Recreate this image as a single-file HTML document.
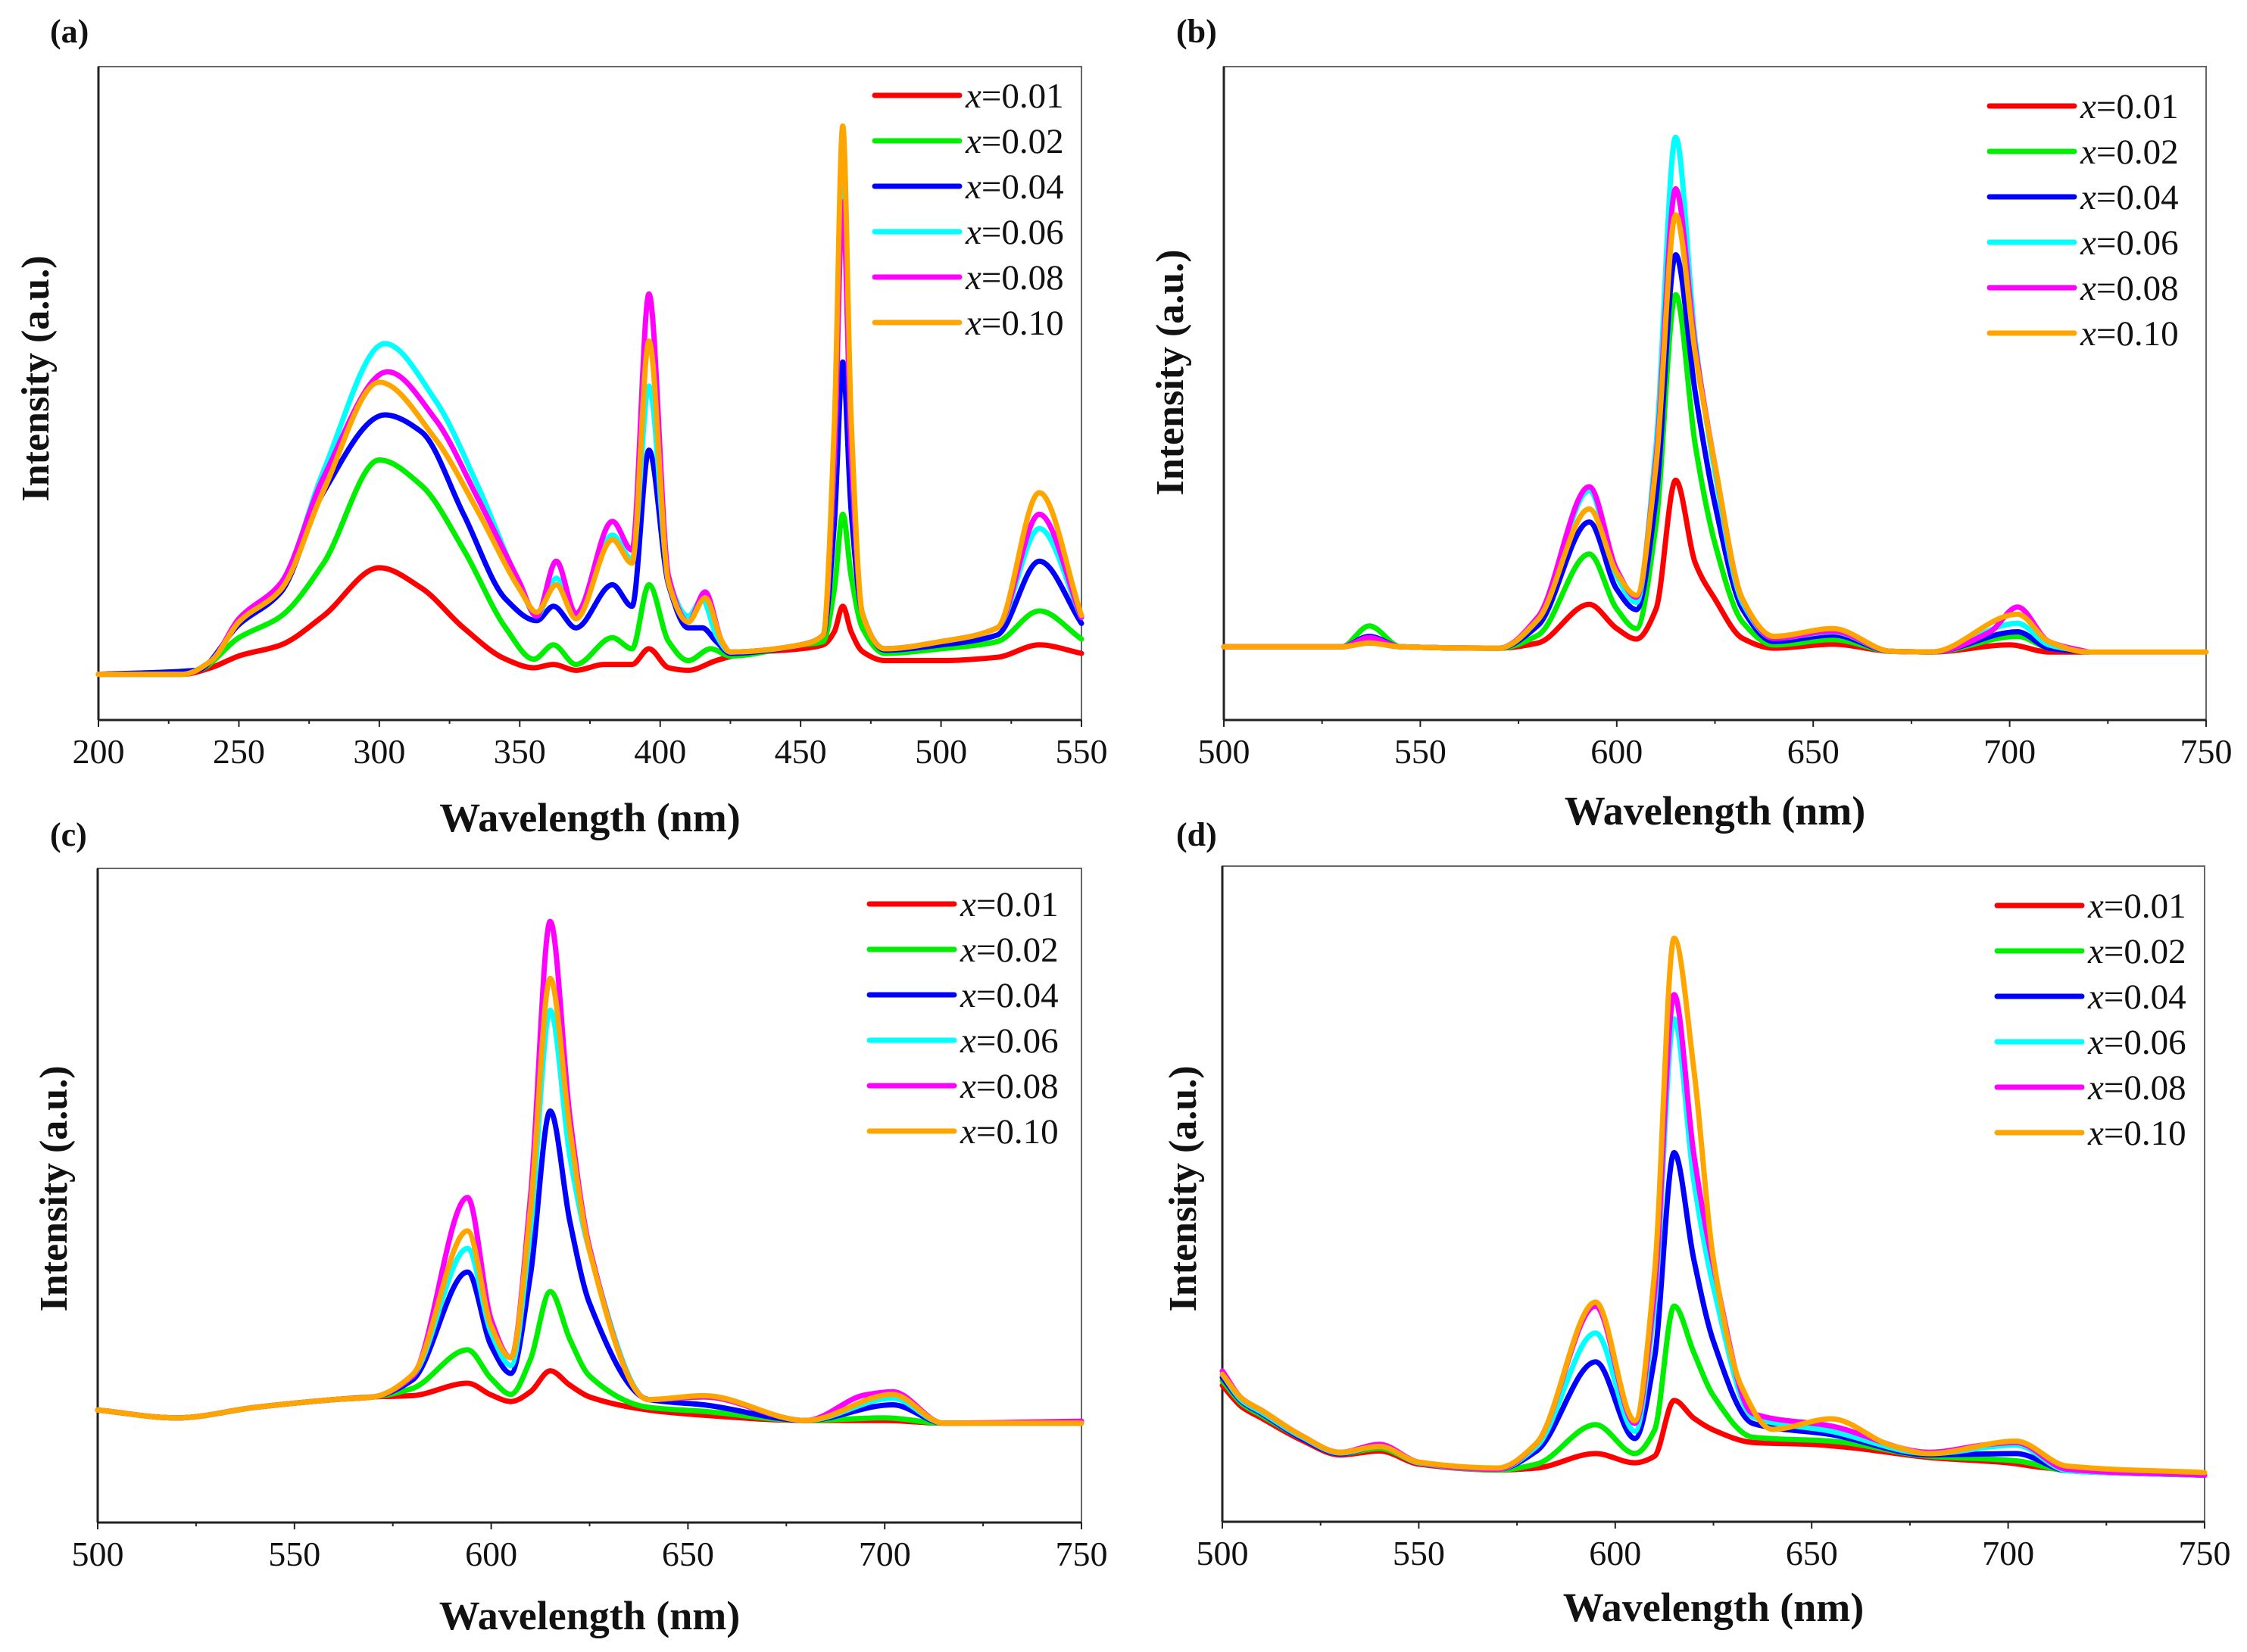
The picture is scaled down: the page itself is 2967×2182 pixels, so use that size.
<!DOCTYPE html>
<html>
<head>
<meta charset="utf-8">
<style>
html,body{margin:0;padding:0;background:#fff;}
svg{display:block;}
</style>
</head>
<body>
<svg id="fig" width="2967" height="2182" viewBox="0 0 2967 2182" xmlns="http://www.w3.org/2000/svg"></svg>
<script>
// ---------- data (wavelength nm, intensity a.u. on 0-100 axis scale) ----------
const seriesLabels = ["0.01","0.02","0.04","0.06","0.08","0.10"];
const seriesColors = ["#ff0000","#00ee00","#0000ff","#00ffff","#ff00ff","#ffa500"];
const xTicksA = [200,250,300,350,400,450,500,550];
const xTicksB = [500,550,600,650,700,750];

// Panel (a): excitation spectra
const aRed = [[200,7],[230,7],[240,8],[250,9.8],[265,11.5],[280,15.9],[300,23.3],[315,20.2],[330,14.1],[345,9.3],[355,8],[362,8.5],[370,7.6],[380,8.5],[390,8.5],[396,10.9],[403,8],[410,7.6],[420,9.1],[430,10.2],[450,10.9],[458,11.5],[462,13.5],[465,17.4],[468,13.5],[472,10.5],[480,9.1],[500,9.1],[520,9.6],[535,11.5],[550,10.2]];
const aGreen = [[200,7],[235,7.6],[250,12.6],[265,15.9],[280,23.9],[300,39.8],[315,35.9],[330,26.1],[345,14.1],[355,9.3],[362,11.5],[370,8.5],[383,12.6],[390,10.9],[396,20.7],[403,12],[410,9.1],[418,10.9],[425,9.8],[450,11.5],[458,12],[462,20],[465,31.5],[468,22],[472,14.1],[480,10.2],[500,10.9],[520,12],[535,16.7],[550,12.4]];
const aBlue = [[200,7],[235,7.6],[250,14.6],[265,19.6],[280,34.8],[302,46.7],[315,44.1],[330,31.5],[345,18.5],[356,15.2],[362,17.4],[370,14.1],[383,20.7],[390,17.4],[396,41.3],[403,20.7],[410,14.1],[415,14.1],[420,12],[425,10.2],[450,11.5],[458,13],[462,30],[465,54.8],[468,32],[472,16.3],[480,10.7],[500,11.5],[520,13],[535,24.3],[550,14.8]];
const aCyan = [[200,7],[230,7],[240,9],[250,15.2],[265,20.7],[280,38],[302,57.6],[320,48.9],[335,35.9],[350,20.7],[356,15.9],[363,21.7],[370,15.9],[383,28.3],[390,24.6],[396,51.1],[403,21.7],[410,15.9],[415,18.5],[420,13],[425,10.4],[450,11.5],[458,13],[462,40],[465,81.5],[468,42],[472,16.3],[480,10.9],[500,12],[520,14.1],[535,29.3],[550,15.7]];
const aMagenta = [[200,7],[230,7],[240,9],[250,15.5],[265,21],[280,37],[303,53.3],[320,46],[335,34],[350,21],[356,15.9],[363,24.3],[370,16.3],[383,30.4],[390,26],[396,65.2],[403,22],[410,15],[416,19.6],[422,12],[425,10.4],[450,11.5],[458,13],[462,40],[465,79.3],[468,41],[472,16.3],[480,10.9],[500,12],[520,14.1],[535,31.5],[550,15.7]];
const aOrange = [[200,7],[230,7],[240,9],[250,15],[265,20],[280,35],[300,51.7],[320,43],[335,32],[350,20],[356,16.5],[363,20.7],[370,15.5],[383,27.6],[390,24],[396,58],[403,21],[410,15],[416,18.7],[422,12],[425,10.4],[450,11.5],[458,13],[462,45],[465,90.9],[468,46],[472,16.3],[480,10.9],[500,12],[520,14.1],[535,34.8],[550,16]];

// Panel (b)
const bRed = [[500,11.2],[530,11.2],[537,11.8],[545,11.2],[570,11],[580,11.8],[593,17.7],[600,14],[605,12.4],[610,17],[615,36.7],[620,24],[625,18.5],[632,12.5],[640,11],[655,11.6],[670,10.5],[680,10.4],[700,11.5],[710,10.4],[720,10.4]];
const bGreen = [[500,11.2],[530,11.2],[537,14.4],[545,11.2],[570,11],[580,13],[593,25.4],[600,17],[605,14],[610,30],[615,65.1],[620,42],[625,27],[632,15],[640,11.5],[655,12.3],[670,10.5],[680,10.4],[702,12.8],[710,11],[720,10.4]];
const bBlue = [[500,11.2],[530,11.2],[537,12.8],[545,11.2],[570,11],[580,14.5],[593,30.3],[600,20],[605,16.9],[610,34],[615,71.2],[620,50],[625,33],[632,17],[640,12],[655,13],[670,10.5],[680,10.4],[702,13.5],[710,11],[720,10.4]];
const bCyan = [[500,11.2],[530,11.2],[537,12.2],[545,11.2],[570,11],[580,15.4],[593,35.1],[600,22],[605,18],[610,42],[615,89.2],[620,58],[625,38],[632,18],[640,12.5],[655,13.5],[670,10.5],[680,10.4],[702,14.8],[710,11.5],[720,10.4]];
const bMagenta = [[500,11.2],[530,11.2],[537,12.6],[545,11.2],[570,11],[580,15.8],[593,35.7],[600,23],[605,18.8],[610,40],[615,81.3],[620,57],[625,39],[632,18.5],[640,12.5],[655,13.6],[670,10.5],[680,10.4],[695,13.5],[702,17.3],[710,12],[720,10.4]];
const bOrange = [[500,11.2],[530,11.2],[537,11.8],[545,11.2],[570,11],[580,15.4],[593,32.3],[600,22.5],[605,19.1],[610,39],[615,77.3],[620,56],[625,39],[632,18.5],[640,12.8],[655,14],[670,10.5],[680,10.4],[702,16.2],[710,12],[720,10.4],[750,10.4]];

// Panel (c)
const cRed = [[500,17.2],[520,16],[540,17.6],[560,18.8],[570,19.2],[580,19.4],[594,21.3],[600,19.5],[605,18.5],[610,20],[615,23.2],[620,21],[625,19.2],[640,17.2],[654,16.4],[680,15.6],[700,15.6],[715,15.2],[750,15.2]];
const cGreen = [[500,17.2],[520,16],[540,17.6],[560,18.8],[570,19.2],[580,20.5],[594,26.4],[600,22],[605,19.6],[610,25],[615,35.3],[620,28],[625,22.4],[640,17.6],[654,17],[680,15.6],[700,16],[715,15.2],[750,15.2]];
const cBlue = [[500,17.2],[520,16],[540,17.6],[560,18.8],[570,19.2],[580,21.8],[594,38.3],[600,27],[605,22.8],[610,38],[615,62.9],[620,46],[625,33.5],[640,18.8],[654,18],[680,15.6],[702,18],[715,15.2],[750,15.2]];
const cCyan = [[500,17.2],[520,16],[540,17.6],[560,18.8],[570,19.2],[580,22.4],[594,41.9],[600,29],[605,24],[610,45],[615,78.3],[620,56],[625,41.5],[640,18.8],[654,19.2],[680,15.6],[702,19],[715,15.2],[750,15.2]];
const cMagenta = [[500,17.2],[520,16],[540,17.6],[560,18.8],[570,19.2],[580,22.4],[594,49.7],[600,31],[605,25.2],[610,50],[615,91.9],[620,62],[625,42],[640,18.8],[654,19.2],[680,15.6],[695,19.5],[702,20],[715,15.2],[750,15.5]];
const cOrange = [[500,17.2],[520,16],[540,17.6],[560,18.8],[570,19.2],[580,22.6],[594,44.6],[600,30],[605,25.2],[610,48],[615,83.2],[620,60],[625,41.5],[640,18.8],[654,19.4],[680,15.6],[702,19.6],[715,15.2],[750,15.2]];

// Panel (d)
const dRed = [[500,20.8],[505,17.5],[510,15.8],[520,12.5],[530,10.2],[540,10.8],[550,8.8],[570,7.9],[580,8.2],[595,10.4],[605,9],[610,10],[615,18.5],[620,15.8],[625,14],[635,12.1],[650,11.8],[660,11.3],[680,9.8],[700,9],[710,8.2],[750,7.1]];
const dGreen = [[500,21.5],[505,18],[510,16.2],[520,12.8],[530,10.4],[540,11.2],[550,9],[570,7.9],[580,8.8],[595,14.8],[605,10.4],[610,14],[615,32.9],[620,25.8],[625,19.2],[635,12.9],[655,12.3],[680,10],[702,9.3],[715,7.8],[750,7.1]];
const dBlue = [[500,22],[505,18.3],[510,16.5],[520,12.8],[530,10.4],[540,11.5],[550,9],[570,8],[580,10.8],[595,24.4],[605,12.7],[610,25],[615,56.3],[620,40],[625,27.5],[635,15],[655,13.3],[680,10.2],[702,10.4],[715,7.8],[750,7.1]];
const dCyan = [[500,22.5],[505,18.5],[510,16.7],[520,13],[530,10.5],[540,11.5],[550,9],[570,8],[580,11.5],[595,28.8],[605,13.8],[610,33],[615,76.7],[620,52],[625,35.8],[635,16],[655,13.8],[680,10.4],[702,11.7],[715,7.8],[750,7.1]];
const dMagenta = [[500,23],[505,18.8],[510,17],[520,13.2],[530,10.6],[540,11.8],[550,9.1],[570,8],[580,12],[595,32.9],[605,15],[610,35],[615,80.4],[620,56],[625,39],[635,16.5],[655,14.6],[680,10.6],[695,11.8],[702,12.1],[715,8],[750,7.1]];
const dOrange = [[500,22.5],[505,18.8],[510,17],[520,13.2],[530,10.6],[540,11.5],[550,9.1],[570,8.2],[580,12],[595,33.5],[605,15.4],[610,38],[615,89],[620,69],[625,40],[632,20.8],[640,14.1],[655,15.7],[670,11.7],[680,10.4],[702,12.3],[715,8.5],[750,7.5]];

const NS = "http://www.w3.org/2000/svg";
const svg = document.getElementById('fig');
function mk(tag, attrs, parent){
  const e = document.createElementNS(NS, tag);
  for (const k in attrs) e.setAttribute(k, attrs[k]);
  (parent||svg).appendChild(e);
  return e;
}
// monotone cubic (Fritsch-Carlson) path - no overshoot
function smoothPath(pts){
  const n = pts.length;
  const dx = [], m = [], t = [];
  for (let i = 0; i < n-1; i++){ dx[i] = pts[i+1][0]-pts[i][0]; m[i] = (pts[i+1][1]-pts[i][1])/dx[i]; }
  t[0] = m[0]; t[n-1] = m[n-2];
  for (let i = 1; i < n-1; i++){
    if (m[i-1]*m[i] <= 0) t[i] = 0;
    else { const w1 = 2*dx[i]+dx[i-1], w2 = dx[i]+2*dx[i-1]; t[i] = (w1+w2)/(w1/m[i-1]+w2/m[i]); }
  }
  let d = "M" + pts[0][0].toFixed(1) + "," + pts[0][1].toFixed(1);
  for (let i = 0; i < n-1; i++){
    const h = dx[i]/3;
    d += " C" + (pts[i][0]+h).toFixed(1)+","+(pts[i][1]+t[i]*h).toFixed(1)+" "+(pts[i+1][0]-h).toFixed(1)+","+(pts[i+1][1]-t[i+1]*h).toFixed(1)+" "+pts[i+1][0].toFixed(1)+","+pts[i+1][1].toFixed(1);
  }
  return d;
}

function panel(cfg){
  const g = mk('g', {});
  
  
  const {L,R,T,B,xmin,xmax,ticks} = cfg;
  const xs = v => L + (v - xmin) / (xmax - xmin) * (R - L);
  const ys = v => B - v / 100 * (B - T);
  const frame = mk('rect', {x:L, y:T, width:R-L, height:B-T, fill:'none', stroke:'#666', 'stroke-width':2}, g);
  
  
  const yax = mk('line', {x1:L, y1:T, x2:L, y2:B, stroke:'#222', 'stroke-width':3}, g);
  
  
  const xax = mk('line', {x1:L, y1:B, x2:R, y2:B, stroke:'#222', 'stroke-width':3}, g);
  
  
  const step = ticks[1] - ticks[0];
  for (let i = 0; i < ticks.length; i++){
    const tx = xs(ticks[i]);
    const tk = mk('line', {x1:tx, y1:B, x2:tx, y2:B+9, stroke:'#222', 'stroke-width':2}, g);
    
    
    if (i < ticks.length - 1){
      const mx = xs(ticks[i] + step/2);
      const mt = mk('line', {x1:mx, y1:B, x2:mx, y2:B+5, stroke:'#222', 'stroke-width':2}, g);
      
      
    }
    const lab = mk('text', {x:tx, y:B+57, 'text-anchor':'middle', 'font-family':'"Liberation Serif", serif', 'font-size':46, fill:'#111'}, g);
    lab.textContent = ticks[i];
    
    
  }
  const xt = mk('text', {x:(L+R)/2, y:cfg.xTitleY, 'text-anchor':'middle', 'font-family':'"Liberation Serif", serif', 'font-size':54, 'font-weight':'bold', fill:'#111'}, g);
  xt.textContent = 'Wavelength (nm)';
  
  
  const yt = mk('text', {x:0, y:0, 'text-anchor':'middle', 'font-family':'"Liberation Serif", serif', 'font-size':52, 'font-weight':'bold', fill:'#111', transform:'translate('+cfg.yTitleX+','+cfg.yTitleY+') rotate(-90)'}, g);
  yt.textContent = 'Intensity (a.u.)';
  
  
  const pl = mk('text', {x:cfg.labX, y:cfg.labY, 'font-family':'"Liberation Serif", serif', 'font-size':44, 'font-weight':'bold', fill:'#111'}, g);
  pl.textContent = cfg.label;
  
  
  cfg.series.forEach((s, i) => {
    const pts = s.map(p => [xs(p[0]), ys(p[1])]);
    const path = mk('path', {d:smoothPath(pts), fill:'none', stroke:seriesColors[i], 'stroke-width':7, 'stroke-linejoin':'round', 'stroke-linecap':'round'}, g);
    
    
  });
  const lg = mk('g', {}, g);
  
  
  seriesLabels.forEach((lbl, i) => {
    const y = cfg.legY + i * cfg.legStep;
    const ln = mk('line', {x1:cfg.legX, y1:y, x2:cfg.legX+112, y2:y, stroke:seriesColors[i], 'stroke-width':7, 'stroke-linecap':'round'}, lg);
    
    
    const tx = mk('text', {x:cfg.legX+120, y:y+16, 'font-family':'"Liberation Serif", serif', 'font-size':47, fill:'#111'}, lg);
    
    
    const it = mk('tspan', {'font-style':'italic'}, tx);
    it.textContent = 'x';
    const rest = mk('tspan', {}, tx);
    rest.textContent = '=' + lbl;
  });
}

panel({name:'panel-a', label:'(a)', labX:66, labY:56, L:130, R:1428, T:88, B:951, xmin:200, xmax:550, ticks:xTicksA,
  xTitleY:1098, yTitleX:64, yTitleY:500, legX:1155, legY:126, legStep:60,
  series:[aRed,aGreen,aBlue,aCyan,aMagenta,aOrange]});
panel({name:'panel-b', label:'(b)', labX:1553, labY:56, L:1616, R:2913, T:88, B:951, xmin:500, xmax:750, ticks:xTicksB,
  xTitleY:1089, yTitleX:1562, yTitleY:492, legX:2627, legY:140, legStep:60,
  series:[bRed,bGreen,bBlue,bCyan,bMagenta,bOrange]});
panel({name:'panel-c', label:'(c)', labX:66, labY:1117, L:129, R:1428, T:1147, B:2011, xmin:500, xmax:750, ticks:xTicksB,
  xTitleY:2152, yTitleX:88, yTitleY:1570, legX:1148, legY:1194, legStep:60,
  series:[cRed,cGreen,cBlue,cCyan,cMagenta,cOrange]});
panel({name:'panel-d', label:'(d)', labX:1553, labY:1117, L:1614, R:2911, T:1144, B:2010, xmin:500, xmax:750, ticks:xTicksB,
  xTitleY:2141, yTitleX:1579, yTitleY:1570, legX:2637, legY:1196, legStep:60,
  series:[dRed,dGreen,dBlue,dCyan,dMagenta,dOrange]});
</script>
</body>
</html>
